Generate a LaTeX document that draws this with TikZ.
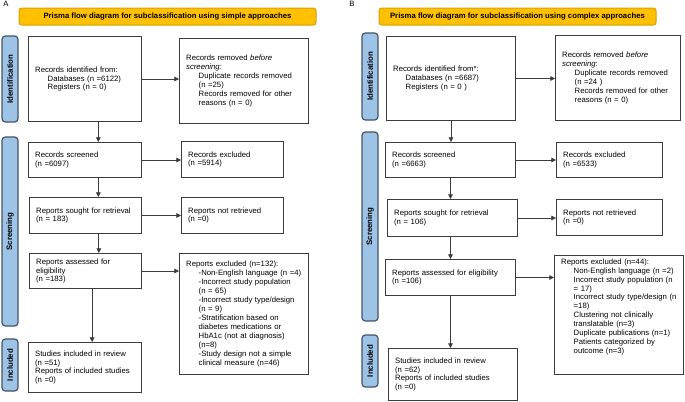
\documentclass[tikz,border=0pt]{standalone}
\usepackage{fontspec}
\setmainfont{Liberation Sans}
\usetikzlibrary{arrows.meta}
\definecolor{titlefill}{RGB}{255,192,0}
\definecolor{titledraw}{RGB}{214,160,0}
\definecolor{sidefill}{RGB}{157,195,230}
\definecolor{sidedraw}{RGB}{68,84,106}
\definecolor{boxdraw}{RGB}{60,60,60}
\newcommand{\indt}{\hspace*{9.4pt}}
\begin{document}
\begin{tikzpicture}[x=0.75pt,y=0.75pt,yscale=-1,xscale=1,
  font=\fontsize{5.8}{6.7}\selectfont,
  box/.style 2 args={draw=boxdraw, line width=0.75pt, anchor=north west, align=left, inner xsep=5pt, inner ysep=1pt, minimum width=#1*0.75pt, minimum height=#2*0.75pt, text width=#1*0.75pt-10pt},
  head/.style 2 args={draw=titledraw, fill=titlefill, rounded corners=2pt, line width=0.75pt, minimum width=#1*0.75pt, minimum height=#2*0.75pt, font=\bfseries\fontsize{5.8}{6.5}\selectfont},
  side/.style={draw=sidedraw, fill=sidefill, rounded corners=2.5pt, line width=0.9pt, rotate=90, minimum width=#1*0.75pt, minimum height=12pt, inner sep=0pt, font=\bfseries\fontsize{5.9}{6.5}\selectfont},
  arr/.style={-{Triangle[length=3.5pt,width=3.5pt]}, line width=0.6pt, draw=boxdraw}]
\useasboundingbox (0,0) rectangle (685,401);
% panel A
\node[anchor=north west, inner sep=0pt] (labA) at (3,1) {A};
\node[head={297}{17}] (titA) at (167.5,16.5) {Prisma flow diagram for subclassification using simple approaches};
\node[side=86] (sidA1) at (10,79) {Identification};
\node[side=189] (sidA2) at (10,231.5) {Screening};
\node[side=52] (sidA3) at (10,365) {Included};
\node[box={113}{85}] (a1) at (28,36) {Records identified from:\\ \indt Databases (n =6122)\\ \indt Registers (n = 0)};
\node[box={129}{85}] (a2) at (179,38) {Records removed \textit{before}\\ \textit{screening:}\\ \indt\mbox{Duplicate records removed}\\ \indt (n =25)\\ \indt\mbox{Records removed for other}\\ \indt reasons (n = 0)};
\node[box={113}{35}] (a3) at (28,142) {Records screened\\(n =6097)};
\node[box={102}{36}] (a4) at (181,141) {Records excluded\\(n =5914)};
\node[box={112}{36}] (a5) at (29,197) {\mbox{Reports sought for retrieval}\\(n = 183)};
\node[box={102}{36}] (a6) at (181,197) {Reports not retrieved\\(n =0)};
\node[box={112}{35}] (a7) at (29,253) {Reports assessed for\\eligibility\\(n =183)};
\node[box={129}{121}] (a8) at (179,253) {Reports excluded (n=132):\\ \indt\mbox{-Non-English language (n =4)}\\ \indt\mbox{-Incorrect study population}\\ \indt (n = 65)\\ \indt\mbox{-Incorrect study type/design}\\ \indt (n = 9)\\ \indt -Stratification based on\\ \indt diabetes medications or\\ \indt\mbox{HbA1c (not at diagnosis)}\\ \indt (n=8)\\ \indt\mbox{-Study design not a simple}\\ \indt\mbox{clinical measure (n=46)}};
\node[box={113}{50}] (a9) at (28,342) {\mbox{Studies included in review}\\(n =51)\\\mbox{Reports of included studies}\\(n =0)};
\draw[arr] (a1.east) -- (a1.east -| a2.west);
\draw[arr] (a3.east) -- (a3.east -| a4.west);
\draw[arr] (a5.east) -- (a5.east -| a6.west);
\draw[arr] (a7.east) -- (a7.east -| a8.west);
\draw[arr] ([xshift=10pt]a1.south) -- ([xshift=10pt]a1.south |- a3.north);
\draw[arr] ([xshift=10pt]a3.south) -- ([xshift=10pt]a3.south |- a5.north);
\draw[arr] ([xshift=10pt]a5.south) -- ([xshift=10pt]a5.south |- a7.north);
\draw[arr] ([xshift=5pt]a7.south) -- ([xshift=5pt]a7.south |- a9.north);
% panel B
\node[anchor=north west, inner sep=0pt] (labB) at (349,1) {B};
\node[head={277}{17}] (titB) at (517.5,16.5) {Prisma flow diagram for subclassification using complex approaches};
\node[side=87] (sidB1) at (370,76.5) {Identification};
\node[side=189] (sidB2) at (370,226.5) {Screening};
\node[side=52] (sidB3) at (370,361) {Included};
\node[box={129}{84}] (b1) at (386,36) {Records identified from*:\\ \indt Databases (n =6687)\\ \indt Registers (n = 0 )};
\node[box={125}{85}] (b2) at (555,35) {Records removed \textit{before}\\ \textit{screening}:\\ \indt\mbox{Duplicate records removed}\\ \indt (n =24 )\\ \indt\mbox{Records removed for other}\\ \indt reasons (n = 0)};
\node[box={130}{35}] (b3) at (385,142) {Records screened\\(n =6663)};
\node[box={106}{35}] (b4) at (556,142) {Records excluded\\(n =6533)};
\node[box={130}{37}] (b5) at (387,199) {Reports sought for retrieval\\(n = 106)};
\node[box={106}{36}] (b6) at (556,199) {Reports not retrieved\\(n =0)};
\node[box={130}{36}] (b7) at (385,259) {\mbox{Reports assessed for eligibility}\\(n =106)};
\node[box={129}{119}] (b8) at (554,255) {Reports excluded (n=44):\\ \indt\mbox{Non-English language (n =2)}\\ \indt\mbox{Incorrect study population (n}\\ \indt = 17)\\ \indt\mbox{Incorrect study type/design (n}\\ \indt =18)\\ \indt Clustering not clinically\\ \indt translatable (n=3)\\ \indt\mbox{Duplicate publications (n=1)}\\ \indt Patients categorized by\\ \indt outcome (n=3)\\ \mbox{}\\ \mbox{}};
\node[box={129}{52}] (b9) at (388,348) {Studies included in review\\(n =62)\\Reports of included studies\\(n =0)};
\draw[arr] (b1.east) -- (b1.east -| b2.west);
\draw[arr] (b3.east) -- (b3.east -| b4.west);
\draw[arr] (b5.east) -- (b5.east -| b6.west);
\draw[arr] (b7.east) -- (b7.east -| b8.west);
\draw[arr] (b1.south) -- (b1.south |- b3.north);
\draw[arr] (b3.south) -- (b3.south |- b5.north);
\draw[arr] ([xshift=-1.5pt]b5.south) -- ([xshift=-1.5pt]b5.south |- b7.north);
\draw[arr] (b7.south) -- (b7.south |- b9.north);
\end{tikzpicture}
\end{document}
